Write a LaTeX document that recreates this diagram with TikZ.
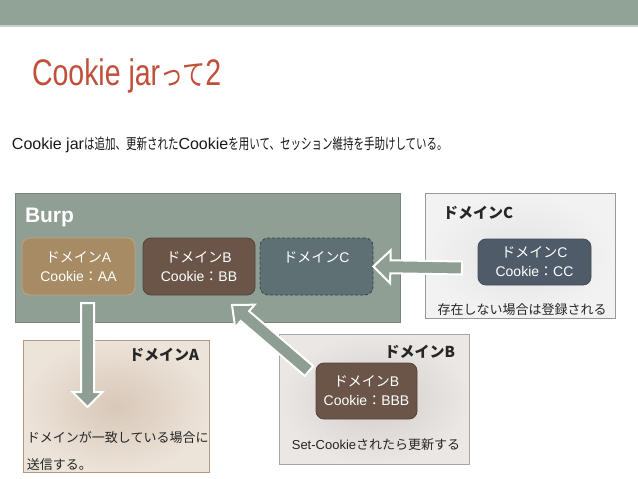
\documentclass[tikz,border=0pt]{standalone}
\usepackage{fontspec}
\setmainfont{Liberation Sans}
\newfontfamily\jp{Noto Sans CJK JP}
\newfontfamily\subjp[FakeStretch=0.7]{Noto Sans CJK JP}
\newfontfamily\titlefont[FakeStretch=0.77]{Liberation Sans}
\newfontfamily\titlejp[FakeStretch=0.77]{Noto Sans CJK JP}
\usetikzlibrary{calc}
\definecolor{barcol}{HTML}{91A297}
\definecolor{barline}{HTML}{C9D1CB}
\definecolor{titlered}{HTML}{C0503A}
\definecolor{burpfill}{HTML}{8F9F94}
\definecolor{burpdraw}{HTML}{75857A}
\definecolor{tanfill}{HTML}{A68B65}
\definecolor{tandraw}{HTML}{C2A47E}
\definecolor{brownfill}{HTML}{6A5548}
\definecolor{browndraw}{HTML}{56443A}
\definecolor{slatefill}{HTML}{5F7075}
\definecolor{slatedraw}{HTML}{36454A}
\definecolor{innerCfill}{HTML}{4F5B68}
\definecolor{arrowfill}{HTML}{8E9E93}
\tikzset{
  txt/.style={inner sep=0pt, outer sep=0pt},
  burpbox/.style={draw=burpdraw, fill=burpfill, line width=0.8pt, inner sep=0pt},
  domainbox/.style={rounded corners=8pt, line width=0.8pt, text=white, align=center,
    font=\fontsize{14}{19}\selectfont, inner sep=0pt, minimum height=57pt},
  panel/.style={line width=0.8pt, inner sep=0pt},
  heading/.style={txt, font=\jp\bfseries\fontsize{15}{18}\selectfont, text=black!85},
  bodytxt/.style={txt, font=\jp\fontsize{13}{16}\selectfont, text=black!85},
  blockarr/.style={fill=arrowfill, draw=white, line width=2pt, line join=miter},
}
% #1 start, #2 tip, #3 half shaft width, #4 half head width, #5 head length
\newcommand\blockarrow[5]{%
  \coordinate (bah) at ($(#2)!#5!(#1)$);
  \draw[blockarr] ($(#1)!#3!90:(#2)$) -- ($(bah)!#3!-90:(#1)$) -- ($(bah)!#4!-90:(#1)$)
    -- (#2) -- ($(bah)!#4!90:(#1)$) -- ($(bah)!#3!90:(#1)$) -- ($(#1)!#3!-90:(#2)$) -- cycle;
}
\begin{document}
\begin{tikzpicture}[x=1pt,y=-1pt]
\path[use as bounding box, fill=white] (0,0) rectangle (638,479);
\fill[barcol] (0,0) rectangle (638,25);
\fill[barline] (0,25) rectangle (638,27);

% title and subtitle
\node[txt, anchor=base west, text=titlered, font=\titlefont\fontsize{37}{40}\selectfont] (title) at (32,85)
  {Cookie jar{\titlejp\fontsize{30}{30}\selectfont って}2};
\node[txt, anchor=base west, text=black!90, font=\fontsize{16}{18}\selectfont] (subtitle) at (12,149)
  {Cookie jar{\subjp\fontsize{15}{16}\selectfont は追加、更新された}Cookie{\subjp\fontsize{15}{16}\selectfont を用いて、セッション維持を手助けしている。}};

% Burp box
\node[burpbox, minimum width=385pt, minimum height=129pt] (burp) at (207.5,257.5) {};
\node[txt, anchor=west, text=white, font=\bfseries\fontsize{21}{24}\selectfont] (burplabel) at (25,217) {Burp};
\node[domainbox, draw=tandraw, fill=tanfill, minimum width=113pt] (domA) at (78.5,266.5)
  {{\jp ドメイン}A\\Cookie{\jp ：}AA};
\node[domainbox, draw=browndraw, fill=brownfill, minimum width=112pt] (domB) at (199,266.5)
  {{\jp ドメイン}B\\Cookie{\jp ：}BB};
\node[domainbox, draw=slatedraw, fill=slatefill, dashed, dash pattern=on 3pt off 2pt, minimum width=113pt] (domC) at (316.5,266.5)
  {{\jp ドメイン}C\\\phantom{Cookie}};

% Domain C panel
\node[panel, draw=black!40, inner color=black!11, outer color=black!5, minimum width=190pt, minimum height=125pt] (panelC) at (520,255.5) {};
\node[heading, anchor=west] (headC) at (443,213) {ドメインC};
\node[domainbox, draw=innerCfill!85!black, fill=innerCfill, minimum width=113pt, minimum height=46pt] (innerC) at (534.5,262)
  {{\jp ドメイン}C\\Cookie{\jp ：}CC};
\node[bodytxt] (noteC) at (522,310) {存在しない場合は登録される};

% Domain A panel
\node[panel, draw=black!35!brown!60, inner color={rgb,255:red,216;green,200;blue,184}, outer color={rgb,255:red,236;green,227;blue,217}, minimum width=186pt, minimum height=132pt] (panelA) at (116,406) {};
\node[heading, anchor=east] (headA) at (199,355) {ドメインA};
\node[bodytxt, anchor=west] (noteA1) at (27,438) {ドメインが一致している場合に};
\node[bodytxt, anchor=west] (noteA2) at (27,465) {送信する。};

% Domain B panel
\node[panel, draw=black!35, inner color={rgb,255:red,212;green,205;blue,201}, outer color={rgb,255:red,234;green,231;blue,229}, minimum width=190pt, minimum height=130pt] (panelB) at (374,399) {};
\node[heading, anchor=east] (headB) at (455,352) {ドメインB};
\node[domainbox, draw=browndraw, fill=brownfill, minimum width=101pt, minimum height=56pt] (innerB) at (366.5,391)
  {{\jp ドメイン}B\\Cookie{\jp ：}BBB};
\node[txt, font=\fontsize{13}{16}\selectfont, text=black!85] (noteB) at (376,445) {Set-Cookie{\jp されたら更新する}};

% arrows
\coordinate (cS) at (462,268);
\coordinate (cT) at (domC.east);
\blockarrow{cS}{cT}{6.5pt}{16.5pt}{17pt}
\coordinate (aS) at (87.5,303);
\coordinate (aT) at (87.5,407);
\blockarrow{aS}{aT}{6.5pt}{15pt}{15pt}
\coordinate (bS) at (309,371);
\coordinate (bT) at (232,305);
\blockarrow{bS}{bT}{6.5pt}{15pt}{17pt}
\end{tikzpicture}
\end{document}
